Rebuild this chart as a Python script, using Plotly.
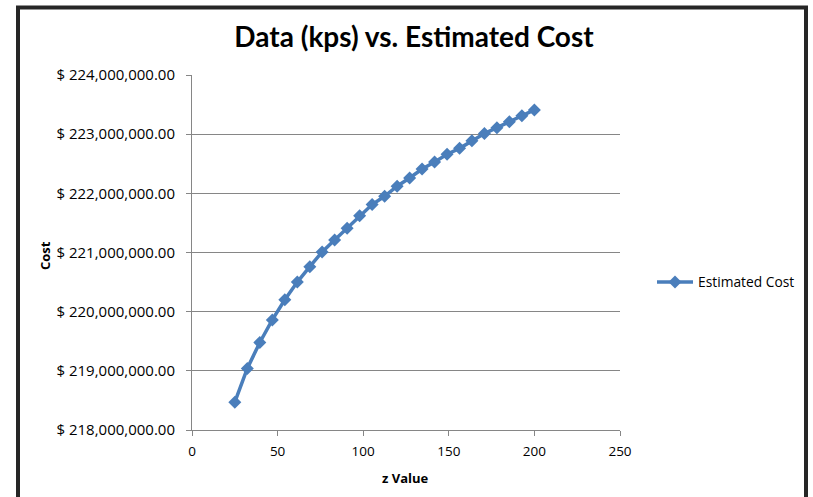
import plotly.graph_objects as go

z_value = [25, 32.3, 39.6, 46.9, 54.2, 61.5, 68.8, 76.0, 83.3, 90.6, 97.9, 105.2,
           112.5, 119.8, 127.1, 134.4, 141.7, 149.0, 156.3, 163.5, 170.8, 178.1,
           185.4, 192.7, 200]
estimated_cost = [218.47e6, 219.04e6, 219.48e6, 219.86e6, 220.20e6, 220.50e6, 220.76e6,
                  221.01e6, 221.21e6, 221.41e6, 221.62e6, 221.81e6, 221.95e6, 222.12e6,
                  222.26e6, 222.41e6, 222.53e6, 222.66e6, 222.76e6, 222.89e6, 223.01e6,
                  223.11e6, 223.21e6, 223.31e6, 223.41e6]
series_name = "Estimated Cost"
title_text = "Data (kps) vs. Estimated Cost"
x_title = "z Value"
y_title = "Cost"

W, H = 813, 497
L, R, T, B = 192, 620, 75, 430
pw, ph = R - L, B - T

def px(x):
    return (x - L) / pw

def py(y):
    return (B - y) / ph

TFONT = "Lato"
FONT = "Open Sans"
blue = "#4A7EBB"
grid = "#868686"

fig = go.Figure()
fig.add_trace(go.Scatter(
    x=z_value, y=estimated_cost, name=series_name, mode="lines+markers",
    line=dict(color=blue, width=3.5),
    marker=dict(symbol="diamond", size=10, color=blue),
))

fig.update_layout(
    width=W, height=H,
    margin=dict(l=L, r=W - R, t=T, b=H - B, pad=0),
    paper_bgcolor="white", plot_bgcolor="white",
    font=dict(family=FONT, size=13, color="#000000"),
    title=dict(text="<b>" + title_text + "</b>", x=px(414), xref="paper", xanchor="center",
               y=1 - 37 / H, yanchor="middle", yref="container",
               font=dict(family=TFONT, size=28, color="#000000")),
    showlegend=True,
    legend=dict(x=px(652), y=py(282), xanchor="left", yanchor="middle",
                font=dict(family=FONT, size=13.8, color="#000000"),
                bgcolor="rgba(0,0,0,0)", itemwidth=36),
    xaxis=dict(range=[0, 250], tickvals=[0, 50, 100, 150, 200, 250],
               showgrid=False, zeroline=False, showline=True, linecolor=grid, linewidth=1,
               ticks="outside", ticklen=5, tickcolor=grid, ticklabelstandoff=4,
               tickfont=dict(family=FONT, size=13.5)),
    yaxis=dict(range=[218e6, 224e6], dtick=1e6, tickprefix="$ ", tickformat=",.2f",
               showgrid=True, gridcolor=grid, gridwidth=1, zeroline=False,
               showline=True, linecolor=grid, linewidth=1,
               ticks="outside", ticklen=5, tickcolor=grid, ticklabelstandoff=8,
               tickfont=dict(family=FONT, size=15)),
    annotations=[
        dict(text="<b>" + x_title + "</b>", xref="paper", yref="paper",
             x=px(405), y=py(478), xanchor="center", yanchor="middle", showarrow=False,
             font=dict(family=FONT, size=13)),
        dict(text="<b>" + y_title + "</b>", xref="paper", yref="paper",
             x=px(45), y=py(256), xanchor="center", yanchor="middle", showarrow=False,
             textangle=-90, font=dict(family=FONT, size=13)),
    ],
    shapes=[dict(type="rect", xref="paper", yref="paper",
                 x0=px(18), x1=px(806), y0=py(7.5), y1=py(505),
                 line=dict(color="#262626", width=4), fillcolor="rgba(0,0,0,0)", layer="below")],
)

fig.write_html("out.html", config={"displayModeBar": False},
               post_script="document.body.style.margin='0';document.body.style.overflow='hidden';")
